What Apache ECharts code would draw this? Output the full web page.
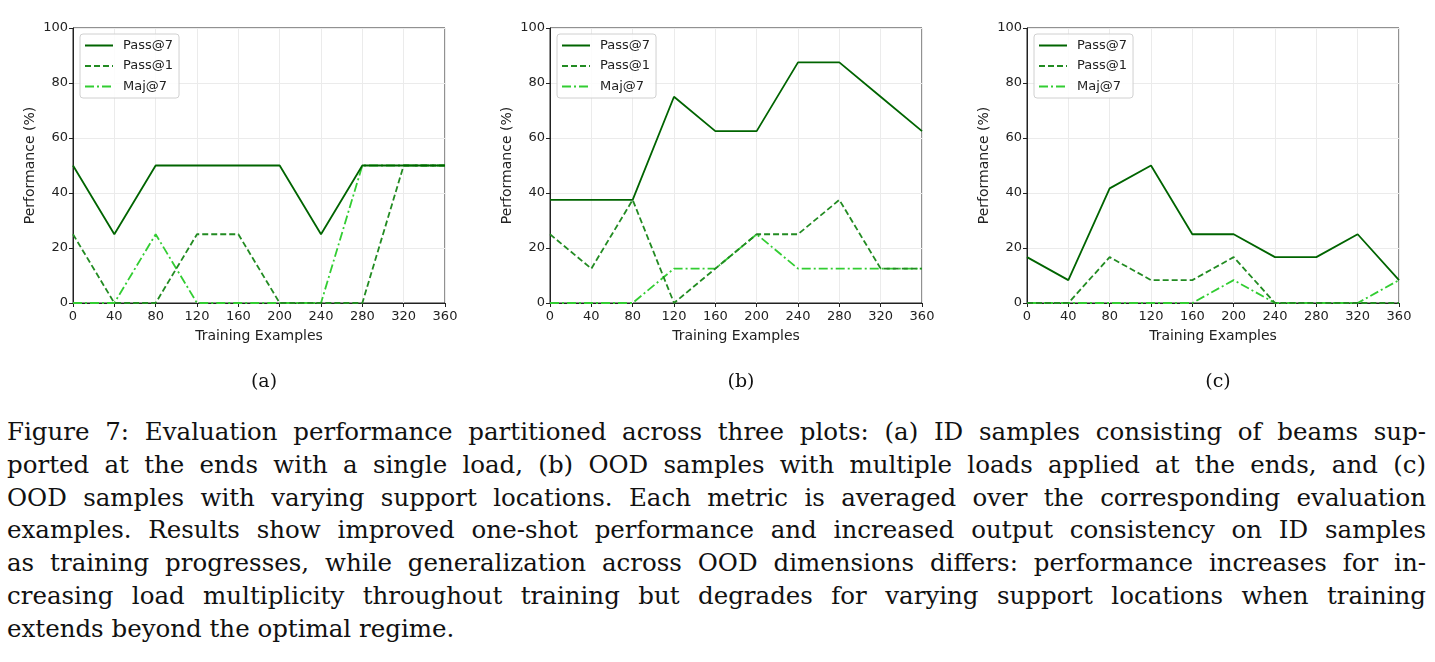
<!DOCTYPE html>
<html>
<head>
<meta charset="utf-8">
<script src="https://cdn.jsdelivr.net/npm/echarts@6/dist/echarts.min.js"></script>
<style>
  html, body { margin: 0; padding: 0; background: #fff; }
  #chart { position: absolute; left: 0; top: 0; width: 1435px; height: 400px; }
  #caption {
    position: absolute; left: 7px; top: 416px; width: 1419px;
    font-family: "DejaVu Serif", "Liberation Serif", serif;
    font-size: 24.5px; line-height: 32.8px; color: #111;
  }
  #caption div { text-align: justify; text-align-last: justify; white-space: nowrap; }
  #caption div.last { text-align-last: left; }
</style>
</head>
<body>
<div id="chart"></div>
<div id="caption">
  <div>Figure 7: Evaluation performance partitioned across three plots: (a) ID samples consisting of beams sup-</div>
  <div>ported at the ends with a single load, (b) OOD samples with multiple loads applied at the ends, and (c)</div>
  <div>OOD samples with varying support locations. Each metric is averaged over the corresponding evaluation</div>
  <div>examples. Results show improved one-shot performance and increased output consistency on ID samples</div>
  <div>as training progresses, while generalization across OOD dimensions differs: performance increases for in-</div>
  <div>creasing load multiplicity throughout training but degrades for varying support locations when training</div>
  <div class="last">extends beyond the optimal regime.</div>
</div>
<script>
// training examples on the x axis
var steps = [0, 40, 80, 120, 160, 200, 240, 280, 320, 360]

// (a) ID samples
var passAt7A = [50, 25, 50, 50, 50, 50, 25, 50, 50, 50]
var passAt1A = [25, 0, 0, 25, 25, 0, 0, 0, 50, 50]
var majAt7A = [0, 0, 25, 0, 0, 0, 0, 50, 50, 50]

// (b) OOD, multiple loads
var passAt7B = [37.5, 37.5, 37.5, 75, 62.5, 62.5, 87.5, 87.5, 75, 62.5]
var passAt1B = [25, 12.5, 37.5, 0, 12.5, 25, 25, 37.5, 12.5, 12.5]
var majAt7B = [0, 0, 0, 12.5, 12.5, 25, 12.5, 12.5, 12.5, 12.5]

// (c) OOD, varying supports
var passAt7C = [16.67, 8.33, 41.67, 50, 25, 25, 16.67, 16.67, 25, 8.33]
var passAt1C = [0, 0, 16.67, 8.33, 8.33, 16.67, 0, 0, 0, 0]
var majAt7C = [0, 0, 0, 0, 0, 8.33, 0, 0, 0, 8.33]

var panelLabels = ['(a)', '(b)', '(c)']
var metricNames = ['Pass@7', 'Pass@1', 'Maj@7']

var panels = [
  [passAt7A, passAt1A, majAt7A],
  [passAt7B, passAt1B, majAt7B],
  [passAt7C, passAt1C, majAt7C]
]
var gridLefts = [73, 550, 1027]

var lineStyles = [
  { color: '#006400', width: 1.8, type: 'solid' },
  { color: '#228B22', width: 1.8, type: [6, 3] },
  { color: '#32CD32', width: 1.8, type: [9, 3, 2, 3] }
]

var font = 'DejaVu Sans'

function pairs(ys) {
  return steps.map(function (x, i) { return [x, ys[i]] })
}

var grids = [], xAxes = [], yAxes = [], series = [], legends = [], titles = []

panels.forEach(function (panel, p) {
  grids.push({
    left: gridLefts[p], top: 28, width: 372, height: 275,
    show: true, borderColor: '#222', borderWidth: 1, backgroundColor: 'transparent'
  })
  xAxes.push({
    gridIndex: p, type: 'value', min: 0, max: 360, interval: 40,
    name: 'Training Examples', nameLocation: 'middle', nameGap: 26,
    nameTextStyle: { fontFamily: font, fontSize: 14, color: '#222' },
    axisLine: { show: true, onZero: false, lineStyle: { color: '#222' } },
    axisTick: { show: true, length: 4, lineStyle: { color: '#222' } },
    axisLabel: { fontFamily: font, fontSize: 13, color: '#222', margin: 7 },
    splitLine: { show: true, lineStyle: { color: '#ebebeb' } }
  })
  yAxes.push({
    gridIndex: p, type: 'value', min: 0, max: 100, interval: 20,
    name: 'Performance (%)', nameLocation: 'middle', nameGap: 36,
    nameTextStyle: { fontFamily: font, fontSize: 14, color: '#222' },
    axisLine: { show: true, lineStyle: { color: '#222' } },
    axisTick: { show: true, length: 4, lineStyle: { color: '#222' } },
    axisLabel: { fontFamily: font, fontSize: 13, color: '#222', margin: 5 },
    splitLine: { show: true, lineStyle: { color: '#ebebeb' } }
  })
  panel.forEach(function (ys, k) {
    series.push({
      name: metricNames[k], type: 'line', xAxisIndex: p, yAxisIndex: p,
      data: pairs(ys), symbol: 'none', z: 10 - k,
      lineStyle: lineStyles[k], itemStyle: { color: lineStyles[k].color },
      animation: false
    })
  })
  legends.push({
    data: metricNames, orient: 'vertical',
    left: gridLefts[p] + 7, top: 34,
    itemWidth: 28, itemHeight: 12, itemGap: 7.5,
    padding: [5, 6, 5, 4],
    itemStyle: { opacity: 0 },
    backgroundColor: 'rgba(255,255,255,0.85)',
    borderColor: '#d0d0d0', borderWidth: 1, borderRadius: 3,
    textStyle: { fontFamily: font, fontSize: 13, color: '#222', padding: [0, 0, 0, 5] },
    selectedMode: false
  })
  titles.push({
    text: panelLabels[p], left: gridLefts[p] + 186, top: 368, textAlign: 'center',
    textStyle: { fontFamily: 'DejaVu Serif', fontSize: 19, fontWeight: 'normal', color: '#111' }
  })
})

var chart = echarts.init(document.getElementById('chart'))
chart.setOption({
  animation: false,
  title: titles,
  grid: grids,
  xAxis: xAxes,
  yAxis: yAxes,
  legend: legends,
  series: series
})
</script>
</body>
</html>
